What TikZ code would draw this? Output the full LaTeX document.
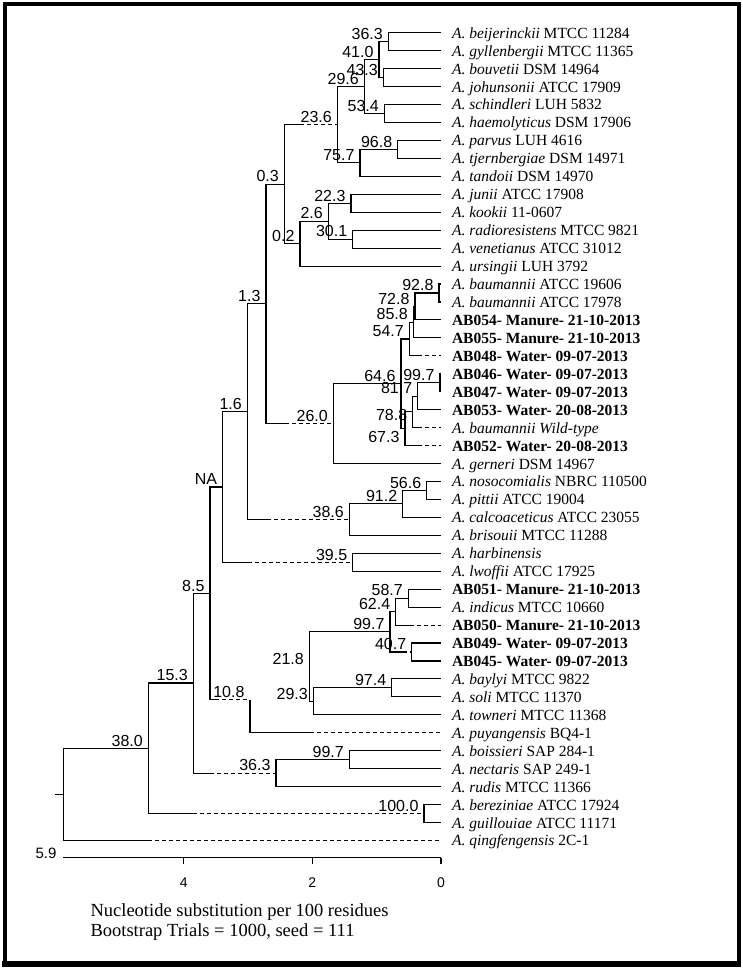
\documentclass[tikz,border=0pt]{standalone}
\usepackage{fontspec}
\setmainfont{Liberation Serif}
\newfontfamily\arialfont{Liberation Sans}
\usetikzlibrary{calc}
\tikzset{>=stealth}
\tikzset{
  leaf/.style={anchor=base west,inner sep=0pt,font=\fontsize{15.5}{18}\selectfont},
  boot/.style={anchor=south east,inner sep=0pt,font=\arialfont\fontsize{16}{16}\selectfont},
  neg/.style={dash pattern=on 4pt off 3pt},
}

\begin{document}
\begin{tikzpicture}[x=1pt,y=-1pt,line width=1.1pt]
\useasboundingbox (0,0) rectangle (743,971);
% frame
\draw[line width=4pt] (4.5,4.5) rectangle (738.5,963);
\draw[line width=6pt] (2,964) -- (740.5,964);

% leaves
\foreach \i/\txt in {
  0/{\textit{A. beijerinckii} MTCC 11284},
  1/{\textit{A. gyllenbergii} MTCC 11365},
  2/{\textit{A. bouvetii} DSM 14964},
  3/{\textit{A. johunsonii} ATCC 17909},
  4/{\textit{A. schindleri} LUH 5832},
  5/{\textit{A. haemolyticus} DSM 17906},
  6/{\textit{A. parvus} LUH 4616},
  7/{\textit{A. tjernbergiae} DSM 14971},
  8/{\textit{A. tandoii} DSM 14970},
  9/{\textit{A. junii} ATCC 17908},
  10/{\textit{A. kookii} 11-0607},
  11/{\textit{A. radioresistens} MTCC 9821},
  12/{\textit{A. venetianus} ATCC 31012},
  13/{\textit{A. ursingii} LUH 3792},
  14/{\textit{A. baumannii} ATCC 19606},
  15/{\textit{A. baumannii} ATCC 17978},
  16/{\textbf{AB054- Manure- 21-10-2013}},
  17/{\textbf{AB055- Manure- 21-10-2013}},
  18/{\textbf{AB048- Water- 09-07-2013}},
  19/{\textbf{AB046- Water- 09-07-2013}},
  20/{\textbf{AB047- Water- 09-07-2013}},
  21/{\textbf{AB053- Water- 20-08-2013}},
  22/{\textit{A. baumannii Wild-type}},
  23/{\textbf{AB052- Water- 20-08-2013}},
  24/{\textit{A. gerneri} DSM 14967},
  25/{\textit{A. nosocomialis} NBRC 110500},
  26/{\textit{A. pittii} ATCC 19004},
  27/{\textit{A. calcoaceticus} ATCC 23055},
  28/{\textit{A. brisouii} MTCC 11288},
  29/{\textit{A. harbinensis}},
  30/{\textit{A. lwoffii} ATCC 17925},
  31/{\textbf{AB051- Manure- 21-10-2013}},
  32/{\textit{A. indicus} MTCC 10660},
  33/{\textbf{AB050- Manure- 21-10-2013}},
  34/{\textbf{AB049- Water- 09-07-2013}},
  35/{\textbf{AB045- Water- 09-07-2013}},
  36/{\textit{A. baylyi} MTCC 9822},
  37/{\textit{A. soli} MTCC 11370},
  38/{\textit{A. towneri} MTCC 11368},
  39/{\textit{A. puyangensis} BQ4-1},
  40/{\textit{A. boissieri} SAP 284-1},
  41/{\textit{A. nectaris} SAP 249-1},
  42/{\textit{A. rudis} MTCC 11366},
  43/{\textit{A. bereziniae} ATCC 17924},
  44/{\textit{A. guillouiae} ATCC 11171},
  45/{\textit{A. qingfengensis} 2C-1}}
{
  \coordinate (t\i) at (440.5,{32.7+17.95*\i});
  \node[leaf] (L\i) at (451.5,{38.2+17.95*\i}) {\txt};
}

% internal nodes
\coordinate (n363a) at (388.3,41.675);
\coordinate (n433) at (383.3,77.575);
\coordinate (n410) at (379,59.625);
\coordinate (n534) at (384.3,113.475);
\coordinate (n296) at (364.3,86.55);
\coordinate (n968) at (397.7,149.375);
\coordinate (n757) at (360,162.84);
\coordinate (n236) at (337.3,124.69);
\coordinate (n223) at (351,203.225);
\coordinate (n301) at (352.7,239.125);
\coordinate (n26) at (328.3,221.175);
\coordinate (n02) at (300,243.61);
\coordinate (n03) at (284.3,184.15);
\coordinate (n928) at (439,292.975);
\coordinate (n728) at (415,306.44);
\coordinate (n858) at (413.3,322.14);
\coordinate (n547) at (409.3,338.97);
\coordinate (n997c) at (440,382.725);
\coordinate (n817) at (417.7,396.19);
\coordinate (n788) at (412.7,411.89);
\coordinate (n673) at (405,428.72);
\coordinate (n646) at (401,383.85);
\coordinate (n260) at (333.3,423.67);
\coordinate (n13) at (266,303.91);
\coordinate (n566) at (426.7,490.425);
\coordinate (n912) at (402.7,503.89);
\coordinate (n386) at (349.3,519.6);
\coordinate (n16) at (247.3,411.76);
\coordinate (n395) at (352.7,562.225);
\coordinate (nNA) at (222.7,487);
\coordinate (n587) at (408.3,598.125);
\coordinate (n624) at (395.7,611.59);
\coordinate (n407) at (411.7,651.975);
\coordinate (n997a) at (390,631.78);
\coordinate (n974) at (391.7,687.875);
\coordinate (n293) at (313.3,701.34);
\coordinate (n218) at (309.3,666.56);
\coordinate (n108) at (250,699.66);
\coordinate (n85) at (210,593.33);
\coordinate (n997b) at (349.3,759.675);
\coordinate (n363b) at (276,773.14);
\coordinate (n153) at (193.3,682.97);
\coordinate (n1000) at (424,813.525);
\coordinate (n380) at (148.3,748.25);
\coordinate (root) at (63.3,794.35);
\coordinate (stub) at (55,794.35);

% solid branches
\foreach \p/\c in {n363a/t0,n363a/t1,n433/t2,n433/t3,n410/n363a,n410/n433,
  n534/t4,n534/t5,n296/n410,n296/n534,n968/t6,n968/t7,n757/n968,n757/t8,
  n236/n296,n236/n757,n223/t9,n223/t10,n301/t11,n301/t12,n26/n223,n26/n301,
  n02/n26,n02/t13,n03/n02,n928/t14,n928/t15,n728/n928,n728/t16,n858/n728,
  n858/t17,n547/n858,n997c/t19,n997c/t20,n817/n997c,n817/t21,n788/n817,
  n673/n788,n646/n547,n646/n673,n260/n646,n260/t24,n13/n03,n566/t25,n566/t26,
  n912/n566,n912/t27,n386/n912,n386/t28,n16/n13,n395/t29,n395/t30,nNA/n16,
  n587/t31,n587/t32,n624/n587,n407/t34,n407/t35,n997a/n624,n974/t36,n974/t37,
  n293/n974,n293/t38,n218/n997a,n218/n293,n85/nNA,n997b/t40,n997b/t41,
  n363b/n997b,n363b/t42,n153/n85,n1000/t43,n1000/t44,n380/n153,root/n380}
  \draw (\p) |- (\c);
\draw (stub) -- (root);

% branches with a dashed part
\foreach \p/\d/\c in {n03/300/n236,n13/285/n260,n547/418/t18,n788/418/t22,
  n673/418/t23,n16/266.7/n386,nNA/248/n395,n624/410/t33,n997a/403/n407,
  n108/310/t39,n85/215/n108,n153/210/n363b,n380/193.3/n1000,root/148.3/t45}
{
  \draw (\p) |- (\d,0 |- \c) coordinate (k-\c);
  \draw[neg] (k-\c) -- (\c);
}

% bootstrap values
\foreach \n/\v in {n363a/36.3,n410/41.0,n433/43.3,n296/29.6,n534/53.4,
  n236/23.6,n968/96.8,n757/75.7,n03/0.3,n223/22.3,n26/2.6,n301/30.1,n02/0.2,
  n13/1.3,n928/92.8,n728/72.8,n858/85.8,n547/54.7,n646/64.6,n997c/99.7,
  n817/81.7,n260/26.0,n16/1.6,n566/56.6,n912/91.2,n386/38.6,nNA/NA,
  n395/39.5,n587/58.7,n624/62.4,n997a/99.7,n407/40.7,n85/8.5,n218/21.8,
  n293/29.3,n974/97.4,n153/15.3,n108/10.8,n380/38.0,n363b/36.3,n997b/99.7,
  n1000/100.0}
  \node[boot] (b-\n) at ([xshift=-5pt,yshift=1.5pt]\n) {\v};
\node[boot] (b-n788) at (407.7,421) {78.8};
\node[boot] (b-n673) at (400,443) {67.3};

% scale
\coordinate (ax5) at (63.3,857.7);
\coordinate (ax0) at (441,857.7);
\draw (ax5) -- (ax0);
\foreach \v/\xx in {4/183.7,2/312.3,0/441}{
  \draw (\xx,857.7) -- (\xx,864);
  \node[anchor=base,inner sep=0pt,font=\arialfont\fontsize{14}{14}\selectfont] (tk\v) at (\xx,887.3) {\v};
}
\node[anchor=base east,inner sep=0pt,font=\arialfont\fontsize{15}{15}\selectfont] (len) at (57,858.3) {5.9};

\node[anchor=base west,inner sep=0pt,font=\fontsize{18.5}{20}\selectfont] (cap1) at (90,916) {Nucleotide substitution per 100 residues};
\node[anchor=base west,inner sep=0pt,font=\fontsize{18.5}{20}\selectfont] (cap2) at (90,936) {Bootstrap Trials = 1000, seed = 111};
\end{tikzpicture}
\end{document}
